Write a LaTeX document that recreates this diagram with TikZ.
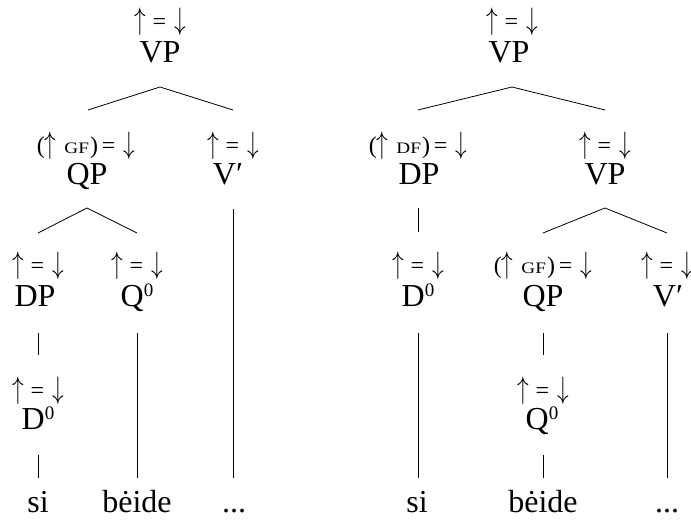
\documentclass[tikz,border=0pt]{standalone}
\usepackage{fix-cm}
\usepackage{graphicx}
\usepackage{fontspec}
\setmainfont{Liberation Serif}
\newcommand{\up}{\scalebox{0.75}[1]{\fontsize{31}{31}\selectfont$\uparrow$}}
\newcommand{\dn}{\scalebox{0.75}[1]{\fontsize{31}{31}\selectfont$\downarrow$}}
\newcommand{\eqd}{\up\hspace{7pt}=\hspace{8pt}\dn}
\newcommand{\fsc}[1]{\scalebox{1.2}[1]{\fontsize{16}{18}\selectfont #1}}
\newcommand{\gfann}[1]{(\up\hspace{8pt}\fsc{#1}\hspace{1pt})\hspace{4pt}=\hspace{8pt}\dn}
\newcommand{\zsup}{\raisebox{10pt}{\fontsize{19}{20}\selectfont 0}}
\tikzset{
  lab/.style={inner sep=0pt, anchor=base, font=\fontsize{32}{38}\selectfont},
  ann/.style={inner sep=0pt, anchor=base, font=\fontsize{24}{30}\selectfont},
  edge/.style={line width=0.8pt, black}
}
\begin{document}
\begin{tikzpicture}[x=1pt,y=1pt]
\useasboundingbox (0,0) rectangle (691,526);
% ---------- left tree ----------
\node[ann] (la0) at (160,496) {\eqd};
\node[lab] (lvp) at (160,463) {VP};
\node[ann] (la1) at (86,372) {\gfann{GF}};
\node[lab] (lqp) at (87,341) {QP};
\node[ann] (la2) at (233,372) {\eqd};
\node[lab] (lvb) at (228,341) {V′};
\node[ann] (la3) at (38,252) {\eqd};
\node[lab] (ldp) at (35,219) {DP};
\node[ann] (la4) at (137,252) {\eqd};
\node[lab] (lq0) at (137,219) {Q\zsup};
\node[ann] (la5) at (38,127) {\eqd};
\node[lab] (ld0) at (38,96) {D\zsup};
\node[lab] (lw1) at (38,13) {si};
\node[lab] (lw2) at (137,13) {bėide};
\node[lab] (lw3) at (234,13) {...};
% left tree lines
\coordinate (lt0) at (160,439);
\coordinate (lb0a) at (88,416);
\coordinate (lb0b) at (233,416);
\coordinate (lt1) at (87,318);
\coordinate (lb1a) at (38,293);
\coordinate (lb1b) at (137,293);
\coordinate (lt2) at (38,193);
\coordinate (lb2) at (38,171);
\coordinate (lt3) at (38,71);
\coordinate (lb3) at (38,48);
\coordinate (lt4) at (137,193);
\coordinate (lb4) at (137,48);
\coordinate (lt5) at (233,317);
\coordinate (lb5) at (233,48);
\draw[edge] (lb0a) -- (lt0) -- (lb0b);
\draw[edge] (lb1a) -- (lt1) -- (lb1b);
\draw[edge] (lt2) -- (lb2);
\draw[edge] (lt3) -- (lb3);
\draw[edge] (lt4) -- (lb4);
\draw[edge] (lt5) -- (lb5);
% ---------- right tree ----------
\node[ann] (ra0) at (512,496) {\eqd};
\node[lab] (rvp) at (509,463) {VP};
\node[ann] (ra1) at (418,372) {\gfann{DF}};
\node[lab] (rdp) at (419,341) {DP};
\node[ann] (ra2) at (605,372) {\eqd};
\node[lab] (rvp2) at (605,341) {VP};
\node[ann] (ra3) at (418,252) {\eqd};
\node[lab] (rd0) at (418,219) {D\zsup};
\node[ann] (ra4) at (543,252) {\gfann{GF}};
\node[lab] (rqp) at (543,219) {QP};
\node[ann] (ra5) at (667,252) {\eqd};
\node[lab] (rvb) at (668,219) {V′};
\node[ann] (ra6) at (543,127) {\eqd};
\node[lab] (rq0) at (542,96) {Q\zsup};
\node[lab] (rw1) at (417,13) {si};
\node[lab] (rw2) at (543,13) {bėide};
\node[lab] (rw3) at (667,13) {...};
% right tree lines
\coordinate (rt0) at (512,439);
\coordinate (rb0a) at (418,416);
\coordinate (rb0b) at (605,416);
\coordinate (rt1) at (418,318);
\coordinate (rb1) at (418,294);
\coordinate (rt2) at (418,193);
\coordinate (rb2) at (418,48);
\coordinate (rt3) at (605,318);
\coordinate (rb3a) at (543,293);
\coordinate (rb3b) at (667,293);
\coordinate (rt4) at (543,193);
\coordinate (rb4) at (543,171);
\coordinate (rt5) at (543,71);
\coordinate (rb5) at (543,48);
\coordinate (rt6) at (667,193);
\coordinate (rb6) at (667,48);
\draw[edge] (rb0a) -- (rt0) -- (rb0b);
\draw[edge] (rt1) -- (rb1);
\draw[edge] (rt2) -- (rb2);
\draw[edge] (rb3a) -- (rt3) -- (rb3b);
\draw[edge] (rt4) -- (rb4);
\draw[edge] (rt5) -- (rb5);
\draw[edge] (rt6) -- (rb6);
\end{tikzpicture}
\end{document}
